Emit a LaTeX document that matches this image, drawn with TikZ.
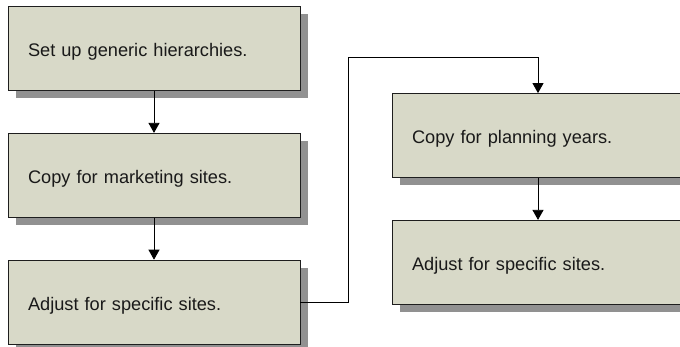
\documentclass[tikz,border=0pt]{standalone}
\usepackage{fontspec}
\setmainfont{Liberation Sans}
\usepackage{xcolor}
\usepackage{tikz}
\usetikzlibrary{positioning,shadows,arrows.meta}
\definecolor{StepFill}{RGB}{216,217,200}
\definecolor{StepShadow}{RGB}{145,145,145}
\definecolor{StepLine}{RGB}{30,30,30}
\tikzset{
    stepbox/.style={rectangle, draw=StepLine, line width=0.8pt, fill=StepFill,
        text width=252pt, inner xsep=20pt, inner ysep=0pt, minimum height=84pt,
        text height=18pt, text depth=1pt,
        align=left, font=\fontsize{18.2}{21}\selectfont, text=black!90,
        drop shadow={shadow xshift=8pt, shadow yshift=-8pt, fill=StepShadow, opacity=1}},
    flow/.style={draw=black, line width=0.8pt, -{Triangle[length=10pt,width=11pt]}}
}
\begin{document}
\begin{tikzpicture}[x=1pt, y=1pt]
    % --- KHUNG ---
    \clip (0,0) rectangle (680,-347);

    % --- CỘT TRÁI ---
    \node[stepbox] (generic) at (154,-48.5) {Set up generic hierarchies.};
    \node[stepbox, below=42pt of generic] (marketing) {Copy for marketing sites.};
    \node[stepbox, below=42pt of marketing] (adjustleft) {Adjust for specific sites.};

    % --- CỘT PHẢI ---
    \node[stepbox] (planning) at (538,-135.5) {Copy for planning years.};
    \node[stepbox, below=42pt of planning] (adjustright) {Adjust for specific sites.};

    % --- MŨI TÊN ---
    \draw[flow] (generic) -- (marketing);
    \draw[flow] (marketing) -- (adjustleft);
    \coordinate (bend) at (348,-57);
    \draw[flow] (adjustleft.east) -| (bend) -| (planning.north);
    \draw[flow] (planning) -- (adjustright);
\end{tikzpicture}
\end{document}
